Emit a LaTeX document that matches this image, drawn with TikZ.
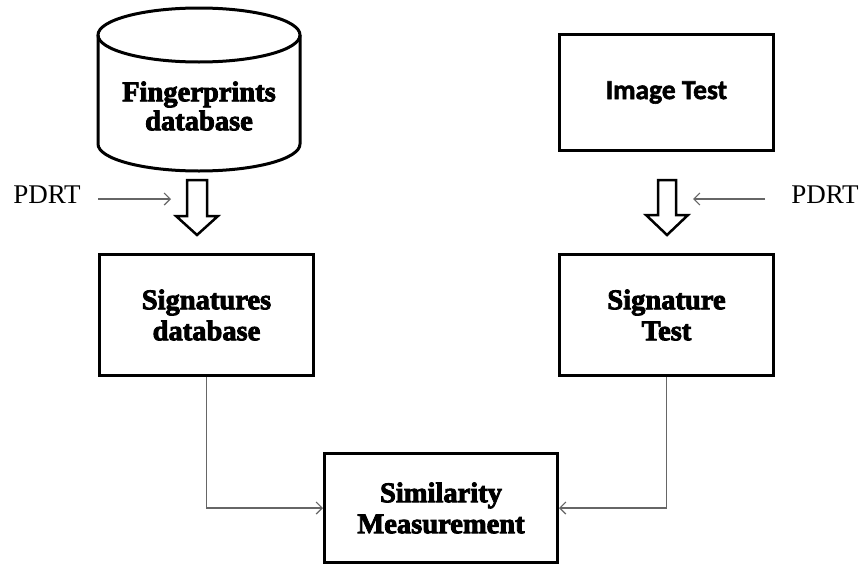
\documentclass[tikz,border=0pt]{standalone}
\usepackage{fontspec}
\setmainfont{LiberationSerif}[Extension=.ttf,UprightFont=*-Regular,BoldFont=*-Bold]
\newfontfamily\boxfont{LiberationSerif}[Extension=.ttf,UprightFont=*-Bold,BoldFont=*-Bold,FakeBold=3]
\newfontfamily\calfont{Carlito}[FakeBold=2]
\usetikzlibrary{arrows.meta}
\begin{document}
\begin{tikzpicture}[x=1pt,y=-1pt,
  box/.style={draw,line width=3pt,minimum width=214pt,minimum height=121pt,align=center,inner sep=0pt,
    font=\boxfont\fontsize{28.5}{31}\selectfont},
  conn/.style={draw=black!60,line width=1.2pt,-{Straight Barb[length=6pt,width=12pt]}},
  hollow/.style={draw,line width=2.5pt,fill=white,line join=miter},
  lbl/.style={font=\fontsize{27}{30}\selectfont,inner sep=0pt}]
\useasboundingbox[fill=white] (0,0) rectangle (864,565);
% cylinder
\draw[line width=3pt] (98,35) -- (98,144) arc[start angle=180,end angle=0,x radius=101,y radius=27] -- (300,35);
\draw[line width=3pt] (199,35) ellipse [x radius=101,y radius=27];
\node[align=center,inner sep=0pt,font=\boxfont\fontsize{28.5}{29}\selectfont] (fp) at (199,106) {Fingerprints\\database};
% boxes
\node[box,minimum height=116pt,font=\calfont\bfseries\fontsize{27.5}{30}\selectfont] (img) at (666.5,92.5) {Image Test};
\node[box] (sigdb) at (206.5,315) {Signatures\\database};
\node[box] (sigt) at (666.5,315) {Signature\\Test};
\node[box,minimum width=233pt,minimum height=109pt] (sim) at (441,508) {Similarity\\Measurement};
% hollow arrows
\draw[hollow] (187,180) -- (207,180) -- (207,216) -- (218,216) -- (197,235) -- (176,216) -- (187,216) -- cycle;
\draw[hollow] (658,180) -- (676,180) -- (676,215) -- (688,215) -- (667,235) -- (646,215) -- (658,215) -- cycle;
% PDRT labels
\node[lbl] (pl) at (47,195) {PDRT};
\node[lbl] (pr) at (825,195) {PDRT};
\coordinate (ls) at (98,199);
\coordinate (la) at (171,199);
\coordinate (rs) at (765,199);
\coordinate (ra) at (693,199);
\draw[conn] (ls) -- (la);
\draw[conn] (rs) -- (ra);
% connectors
\draw[conn] (sigdb.south) |- (sim.west);
\draw[conn] (sigt.south) |- (sim.east);
\end{tikzpicture}
\end{document}
